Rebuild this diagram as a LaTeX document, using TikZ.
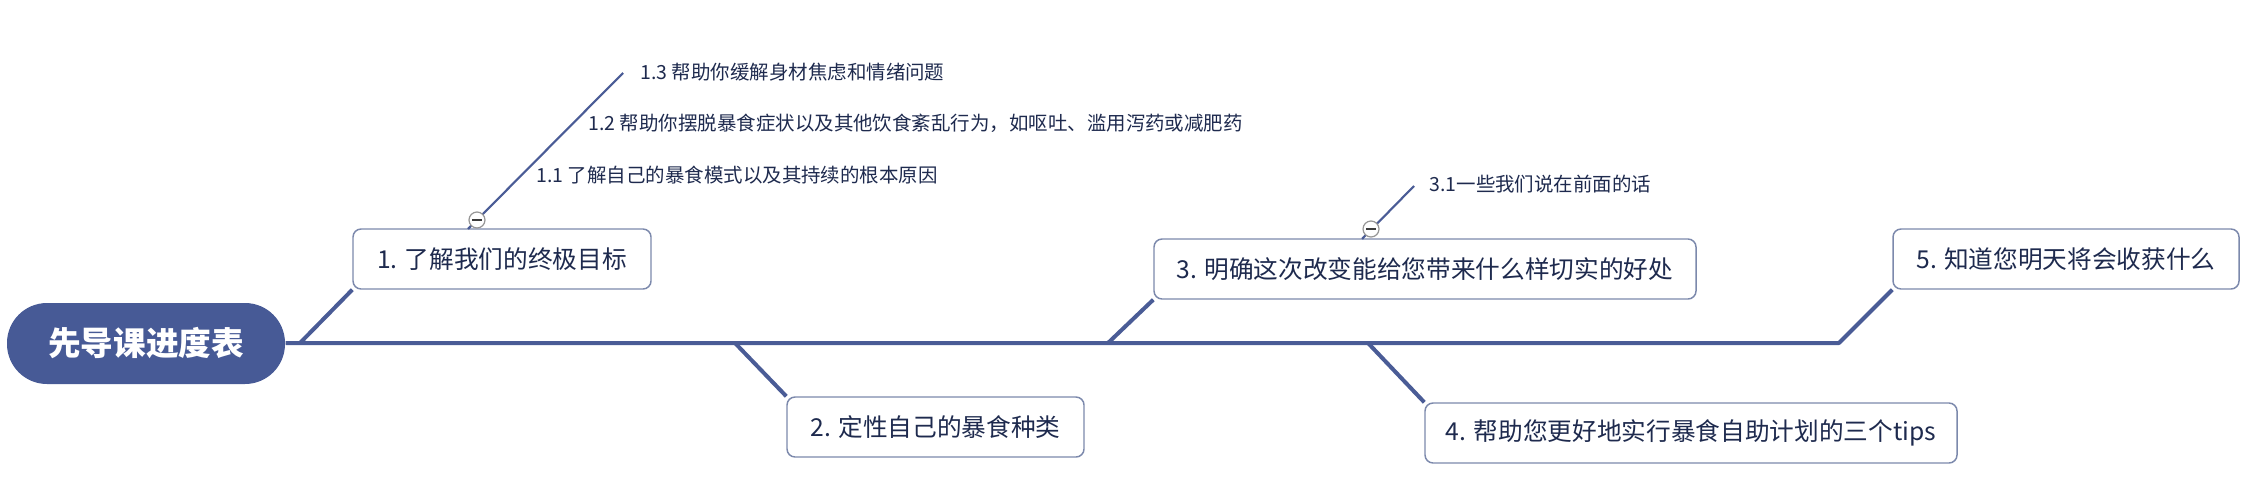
\documentclass[tikz,border=0pt]{standalone}
\usepackage{fontspec}
\setmainfont{Noto Sans CJK SC}

\tikzset{every picture/.style={line width=0.75pt}}
\tikzset{
  topic/.style={draw={rgb, 255:red, 124; green, 137; blue, 172}, line width=1.1pt, rounded corners=6pt, fill=white,
    minimum height=45pt, inner sep=0.75pt, text={rgb, 255:red, 30; green, 42; blue, 78}, font=\fontsize{18.5}{22}\selectfont},
  roottopic/.style={fill={rgb, 255:red, 71; green, 90; blue, 150}, rounded corners=30pt, minimum width=208.5pt,
    minimum height=60.75pt, inner sep=0.75pt, text=white, font=\fontsize{24.5}{28}\selectfont\bfseries},
  branch/.style={draw={rgb, 255:red, 74; green, 92; blue, 150}, line width=3pt, line join=round},
  subline/.style={draw={rgb, 255:red, 74; green, 92; blue, 150}, line width=1.6pt},
  subtext/.style={anchor=west, inner sep=0.75pt, text={rgb, 255:red, 30; green, 42; blue, 78}, font=\fontsize{14.6}{18}\selectfont},
  fold/.style={circle, draw={rgb, 255:red, 150; green, 150; blue, 150}, line width=0.9pt, fill=white, minimum size=12pt, inner sep=0pt},
  foldmark/.style={draw={rgb, 255:red, 60; green, 60; blue, 60}, line width=1pt}
}

\begin{document}
\begin{tikzpicture}[x=0.75pt,y=0.75pt,yscale=-1,xscale=1]
\useasboundingbox (0,0) rectangle (2264,496); %set diagram size 2264 x 496

% Root
\node (root) [roottopic] at (146,343.5) {先导课进度表};

% Topics
\node (box1) [topic, minimum width=223.5pt] at (502,259) {1. 了解我们的终极目标};
\node (box2) [topic, minimum width=222.75pt] at (935.5,427) {2. 定性自己的暴食种类};
\node (box3) [topic, minimum width=406.5pt] at (1425,269) {3. 明确这次改变能给您带来什么样切实的好处};
\node (box4) [topic, minimum width=399pt] at (1691,433) {4. 帮助您更好地实行暴食自助计划的三个tips};
\node (box5) [topic, minimum width=259.5pt] at (2066,259) {5. 知道您明天将会收获什么};

% Spine and branches
\coordinate (j1) at (300,343);
\coordinate (j2) at (735,343);
\coordinate (j3) at (1108,343);
\coordinate (j4) at (1368,343);
\coordinate (j5) at (1839,343);
\draw [branch] (root.east |- j1) -- (j5) -- (box5.south west);
\draw [branch] (j1) -- (box1.south west);
\draw [branch] (j2) -- (box2.north west);
\draw [branch] (j3) -- (box3.south west);
\draw [branch] (j4) -- (box4.north west);

% Subtopics of 1
\coordinate (s1) at (468,229);
\coordinate (e1) at (623,73);
\draw [subline] (s1) -- (e1);
\node (t11) [subtext] at (535,175) {1.1 了解自己的暴食模式以及其持续的根本原因};
\node (t12) [subtext] at (587,123) {1.2 帮助你摆脱暴食症状以及其他饮食紊乱行为，如呕吐、滥用泻药或减肥药};
\node (t13) [subtext] at (639,72) {1.3 帮助你缓解身材焦虑和情绪问题};
\node (f1) [fold] at (477,220) {};
\draw [foldmark] ([xshift=-3.5pt]f1.center) -- ([xshift=3.5pt]f1.center);

% Subtopic of 3
\coordinate (s3) at (1362,239);
\coordinate (e3) at (1414,186);
\draw [subline] (s3) -- (e3);
\node (t31) [subtext] at (1428,184) {3.1一些我们说在前面的话};
\node (f3) [fold] at (1371,229) {};
\draw [foldmark] ([xshift=-3.5pt]f3.center) -- ([xshift=3.5pt]f3.center);

\end{tikzpicture}
\end{document}
